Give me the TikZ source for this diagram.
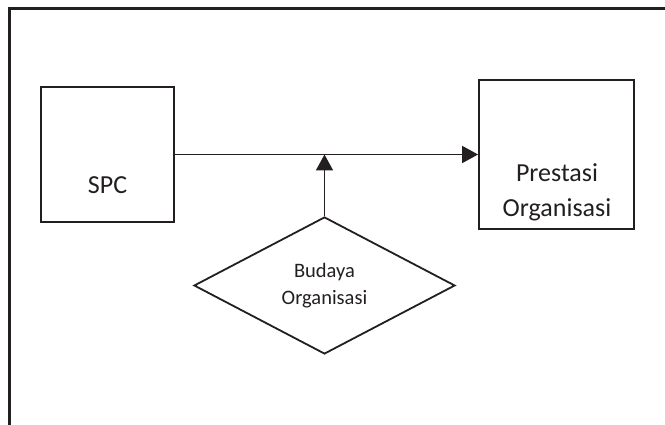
\documentclass[tikz,border=0pt]{standalone}
\usepackage{fontspec}
\setmainfont{Carlito}
\usetikzlibrary{shapes.geometric,arrows.meta}
\definecolor{ink}{HTML}{231F20}
\tikzset{
  box/.style={draw=ink, line width=1.8pt, rectangle, inner sep=0pt},
  dia/.style={draw=ink, line width=1.8pt, diamond, inner sep=0pt},
  conn/.style={draw=ink, line width=1.8pt, -{Triangle[length=16pt,width=17pt]}},
  frame/.style={draw=ink, line width=2.2pt},
  bigtxt/.style={text=ink, font=\fontsize{26}{35}\selectfont, align=center, inner sep=0pt},
  smalltxt/.style={text=ink, font=\fontsize{20.5}{27}\selectfont, align=center, inner sep=0pt}
}
\begin{document}
\begin{tikzpicture}[x=1pt,y=-1pt]
\useasboundingbox (0,0) rectangle (665,425);
\path[frame] (9.5,430) -- (9.5,8.5) -- (670,8.5);
\node[box, minimum width=133pt, minimum height=135pt] (spc) at (107.5,154.5) {};
\node[box, minimum width=155pt, minimum height=149pt] (pres) at (556.5,154.5) {};
\node[dia, minimum width=261pt, minimum height=137pt] (bud) at (324.5,285.5) {};
\node[bigtxt, anchor=base] (spct) at (107.5,193.5) {SPC};
\node[bigtxt, anchor=base] (prest) at (557,216.7) {Prestasi\\Organisasi};
\node[smalltxt, anchor=base] (budt) at (324.5,305) {Budaya\\Organisasi};
\draw[conn] (spc.east |- pres.west) -- (pres.west);
\draw[conn] (bud.north) -- (bud.north |- pres.west);
\end{tikzpicture}
\end{document}
